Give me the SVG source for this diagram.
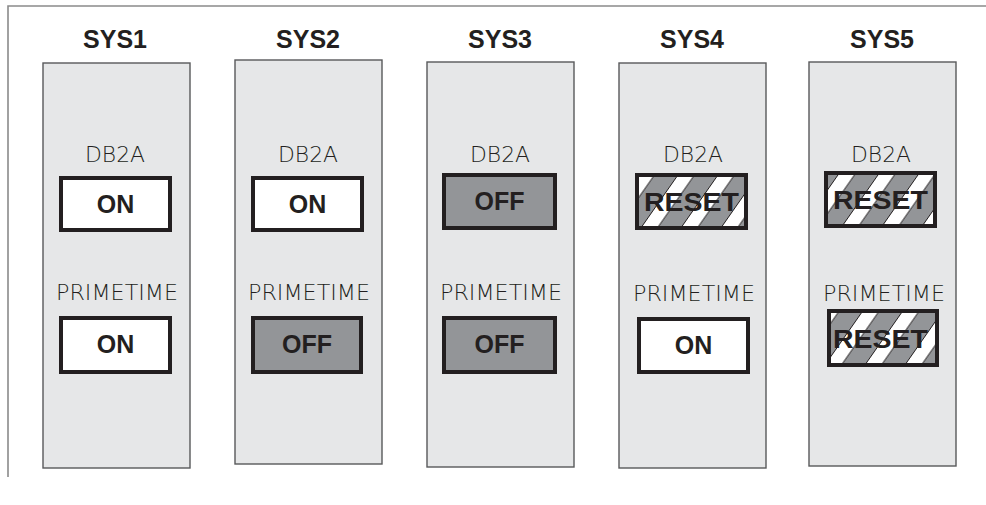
<svg xmlns="http://www.w3.org/2000/svg" width="986" height="505" viewBox="0 0 986 505">
<style>
.frame{fill:none;stroke:#8a8a8a;stroke-width:1.6}
.panel{fill:#e6e7e8;stroke:#58595b;stroke-width:1.4}
.title{font-family:"Liberation Sans",Arial,sans-serif;font-weight:bold;font-size:25px;fill:#231f20;text-anchor:middle}
.lbl{font-family:"DejaVu Sans ExtraLight","DejaVu Sans","Liberation Sans",sans-serif;font-weight:200;font-size:21px;fill:#231f20;text-anchor:middle}
.sw{stroke:#231f20;stroke-width:4}
.on{fill:#ffffff}
.off{fill:#939598}
.reset{fill:url(#stripes)}
.st{font-family:"Liberation Sans",Arial,sans-serif;font-weight:bold;font-size:25px;fill:#231f20;text-anchor:middle}
</style>
<defs>
<pattern id="stripes" patternUnits="userSpaceOnUse" width="40" height="60" patternTransform="skewX(-35)">
<rect x="0" y="0" width="40" height="60" fill="#939598"/>
<rect x="0" y="0" width="17" height="60" fill="#ffffff"/>
<line x1="0.5" y1="0" x2="0.5" y2="60" stroke="#231f20" stroke-width="1"/>
<line x1="17" y1="0" x2="17" y2="60" stroke="#231f20" stroke-width="1"/>
</pattern>
</defs>
<path class="frame" d="M986 6 H8 V477"/>
<g id="sys1">
<text class="title" x="115" y="48">SYS1</text>
<rect class="panel" x="43" y="63" width="147" height="405"/>
<text class="lbl" x="115" y="162" textLength="60" lengthAdjust="spacingAndGlyphs">DB2A</text>
<rect class="sw on" x="61" y="178" width="109" height="52"/>
<text class="st" x="115.5" y="213">ON</text>
<text class="lbl" x="117" y="300" textLength="122" lengthAdjust="spacingAndGlyphs">PRIMETIME</text>
<rect class="sw on" x="61" y="318" width="109" height="54"/>
<text class="st" x="115.5" y="353">ON</text>
</g>
<g id="sys2">
<text class="title" x="308" y="48">SYS2</text>
<rect class="panel" x="235" y="60" width="147" height="404"/>
<text class="lbl" x="308" y="162" textLength="60" lengthAdjust="spacingAndGlyphs">DB2A</text>
<rect class="sw on" x="253" y="178" width="109" height="52"/>
<text class="st" x="307.5" y="213">ON</text>
<text class="lbl" x="309" y="300" textLength="122" lengthAdjust="spacingAndGlyphs">PRIMETIME</text>
<rect class="sw off" x="253" y="318" width="108" height="54"/>
<text class="st" x="307" y="353">OFF</text>
</g>
<g id="sys3">
<text class="title" x="500" y="48">SYS3</text>
<rect class="panel" x="427" y="62" width="147" height="405"/>
<text class="lbl" x="500" y="162" textLength="60" lengthAdjust="spacingAndGlyphs">DB2A</text>
<rect class="sw off" x="444" y="175" width="111" height="53"/>
<text class="st" x="499.5" y="210">OFF</text>
<text class="lbl" x="501" y="300" textLength="122" lengthAdjust="spacingAndGlyphs">PRIMETIME</text>
<rect class="sw off" x="444" y="318" width="111" height="54"/>
<text class="st" x="499.5" y="353">OFF</text>
</g>
<g id="sys4">
<text class="title" x="692" y="48">SYS4</text>
<rect class="panel" x="619" y="63" width="147" height="405"/>
<text class="lbl" x="693" y="162" textLength="60" lengthAdjust="spacingAndGlyphs">DB2A</text>
<rect class="sw reset" x="637" y="175" width="109" height="53"/>
<text class="st" x="691.5" y="211" textLength="95" lengthAdjust="spacingAndGlyphs">RESET</text>
<text class="lbl" x="694" y="301" textLength="122" lengthAdjust="spacingAndGlyphs">PRIMETIME</text>
<rect class="sw on" x="639" y="319" width="109" height="53"/>
<text class="st" x="693.5" y="354">ON</text>
</g>
<g id="sys5">
<text class="title" x="882" y="48">SYS5</text>
<rect class="panel" x="809" y="62" width="147" height="404"/>
<text class="lbl" x="881" y="162" textLength="60" lengthAdjust="spacingAndGlyphs">DB2A</text>
<rect class="sw reset" x="826" y="173" width="109" height="53"/>
<text class="st" x="880.5" y="209" textLength="95" lengthAdjust="spacingAndGlyphs">RESET</text>
<text class="lbl" x="884" y="301" textLength="122" lengthAdjust="spacingAndGlyphs">PRIMETIME</text>
<rect class="sw reset" x="829" y="311" width="108" height="54"/>
<text class="st" x="880.5" y="348" textLength="95" lengthAdjust="spacingAndGlyphs">RESET</text>
</g>
</svg>
